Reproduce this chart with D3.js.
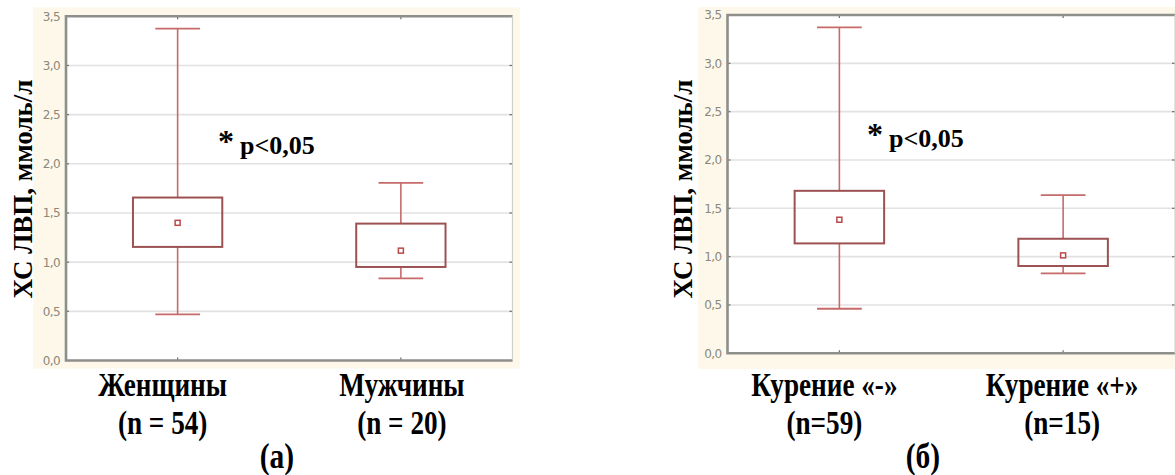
<!DOCTYPE html>
<html>
<head>
<meta charset="utf-8">
<script src="https://cdn.jsdelivr.net/npm/d3@7"></script>
<style>
  html, body { margin: 0; padding: 0; background: #ffffff; }
  svg { display: block; }
</style>
</head>
<body>
<svg id="chart" width="1175" height="475"></svg>
<script>
// HDL cholesterol (mmol/l) box plots: by sex (а) and by smoking status (б)
const yTickValues = [0, 0.5, 1.0, 1.5, 2.0, 2.5, 3.0, 3.5];
const yTitle = "ХС ЛВП, ммоль/л";
const noteText = "p<0,05";

const sexCategories = ["Женщины", "Мужчины"];
const sexCounts = ["(n = 54)", "(n = 20)"];
const sexWhiskerLow = [0.47, 0.835];
const sexQ1 = [1.155, 0.951];
const sexMean = [1.40, 1.117];
const sexQ3 = [1.657, 1.392];
const sexWhiskerHigh = [3.375, 1.806];

const smokeCategories = ["Курение «-»", "Курение «+»"];
const smokeCounts = ["(n=59)", "(n=15)"];
const smokeWhiskerLow = [0.461, 0.827];
const smokeQ1 = [1.137, 0.903];
const smokeMean = [1.382, 1.013];
const smokeQ3 = [1.681, 1.185];
const smokeWhiskerHigh = [3.371, 1.637];

const svg = d3.select("#chart");
const fmt = v => d3.format(".1f")(v).replace(".", ",");

const panels = [
  {
    letter: "(а)", cats: sexCategories, counts: sexCounts,
    lo: sexWhiskerLow, q1: sexQ1, mean: sexMean, q3: sexQ3, hi: sexWhiskerHigh,
    left: 66, right: 512.5, top: 16.3, bottom: 360.5,
    bg: [33, 7.5, 487, 361], titleX: 32, titleY: 189,
    note: [218, 154], labelShift: [-15, 1], letterX: 277
  },
  {
    letter: "(б)", cats: smokeCategories, counts: smokeCounts,
    lo: smokeWhiskerLow, q1: smokeQ1, mean: smokeMean, q3: smokeQ3, hi: smokeWhiskerHigh,
    left: 727.5, right: 1175, top: 15, bottom: 353.3,
    bg: [698, 7, 477, 362], titleX: 692, titleY: 189,
    note: [867, 147], labelShift: [-15, -1], letterX: 923
  }
];

panels.forEach(p => {
  const g = svg.append("g");

  // cream chart background and white plot area
  g.append("rect").attr("x", p.bg[0]).attr("y", p.bg[1])
    .attr("width", p.bg[2]).attr("height", p.bg[3]).attr("fill", "#fdf8ea");
  g.append("rect").attr("x", p.left).attr("y", p.top)
    .attr("width", p.right - p.left).attr("height", p.bottom - p.top).attr("fill", "#ffffff");

  const x = d3.scalePoint().domain(p.cats).range([p.left, p.right]).padding(0.5);
  const y = d3.scaleLinear().domain([0, 3.5]).range([p.bottom, p.top]);
  const step = x.step();
  const boxW = step * 0.4;
  const capW = step * 0.2;

  // horizontal grid
  g.append("g").selectAll("line").data(yTickValues.slice(1, -1)).join("line")
    .attr("x1", p.left).attr("x2", p.right)
    .attr("y1", d => y(d)).attr("y2", d => y(d))
    .attr("stroke", "#e2e2e2").attr("stroke-width", 1.6);

  // y axis labels
  const yAxis = d3.axisLeft(y).tickValues(yTickValues).tickFormat(fmt).tickSize(0).tickPadding(6);
  const ya = g.append("g").attr("transform", `translate(${p.left},0)`).call(yAxis);
  ya.select(".domain").remove();
  ya.selectAll("text").attr("fill", "#8a887c").attr("font-family", "DejaVu Sans")
    .attr("font-size", 12).attr("letter-spacing", -0.6);

  // frame tick marks
  const tk = g.append("g").attr("stroke", "#6e6e6e").attr("stroke-width", 1.2);
  yTickValues.forEach(v => {
    tk.append("line").attr("x1", p.left).attr("x2", p.left + 3).attr("y1", y(v)).attr("y2", y(v));
    tk.append("line").attr("x1", p.right - 3).attr("x2", p.right).attr("y1", y(v)).attr("y2", y(v));
  });
  p.cats.forEach(c => {
    tk.append("line").attr("x1", x(c)).attr("x2", x(c)).attr("y1", p.top).attr("y2", p.top + 3);
    tk.append("line").attr("x1", x(c)).attr("x2", x(c)).attr("y1", p.bottom - 3).attr("y2", p.bottom);
  });

  // plot frame
  g.append("path")
    .attr("d", `M${p.right},${p.top}H${p.left}V${p.bottom}H${p.right}`)
    .attr("fill", "none").attr("stroke", "#8e8e8a").attr("stroke-width", 2.6);
  g.append("line").attr("x1", p.right).attr("x2", p.right).attr("y1", p.top).attr("y2", p.bottom)
    .attr("stroke", "#d0d0cc").attr("stroke-width", 1.2);

  // boxes
  const idx = d3.range(p.cats.length);
  const bx = g.append("g");
  idx.forEach(i => {
    const cx = x(p.cats[i]);
    // whiskers
    bx.append("line").attr("x1", cx).attr("x2", cx).attr("y1", y(p.hi[i])).attr("y2", y(p.q3[i]))
      .attr("stroke", "#c66a6a").attr("stroke-width", 1.6);
    bx.append("line").attr("x1", cx).attr("x2", cx).attr("y1", y(p.q1[i])).attr("y2", y(p.lo[i]))
      .attr("stroke", "#c66a6a").attr("stroke-width", 1.6);
    [p.hi[i], p.lo[i]].forEach(v => {
      bx.append("line").attr("x1", cx - capW / 2).attr("x2", cx + capW / 2)
        .attr("y1", y(v)).attr("y2", y(v))
        .attr("stroke", "#c66a6a").attr("stroke-width", 1.8);
    });
    // interquartile box
    bx.append("rect").attr("x", cx - boxW / 2).attr("y", y(p.q3[i]))
      .attr("width", boxW).attr("height", y(p.q1[i]) - y(p.q3[i]))
      .attr("fill", "none").attr("stroke", "#9c5252").attr("stroke-width", 2);
    // mean marker
    bx.append("rect").attr("x", cx - 2.5).attr("y", y(p.mean[i]) - 2.5)
      .attr("width", 5).attr("height", 5)
      .attr("fill", "#ffffff").attr("stroke", "#b84a4a").attr("stroke-width", 1.5);
  });

  // y title
  g.append("text")
    .attr("transform", `translate(${p.titleX},${p.titleY}) rotate(-90)`)
    .attr("text-anchor", "middle")
    .attr("font-family", "Liberation Serif").attr("font-weight", "bold")
    .attr("font-size", 27).attr("fill", "#000")
    .text(yTitle);

  // significance note
  const note = g.append("text").attr("x", p.note[0]).attr("y", p.note[1])
    .attr("font-family", "Liberation Serif").attr("font-weight", "bold").attr("fill", "#000");
  note.append("tspan").attr("font-size", 32).attr("dy", -2).text("*");
  note.append("tspan").attr("font-size", 26).attr("dx", 6).attr("dy", 2).text(noteText);

  // category labels
  idx.forEach(i => {
    const cx = x(p.cats[i]) + p.labelShift[i];
    [[p.cats[i], 396], [p.counts[i], 434]].forEach(([t, by]) => {
      g.append("text")
        .attr("transform", `translate(${cx},${by}) scale(0.8,1)`)
        .attr("text-anchor", "middle")
        .attr("font-family", "Liberation Serif").attr("font-weight", "bold")
        .attr("font-size", 34).attr("fill", "#000").text(t);
    });
  });

  // panel letter
  g.append("text")
    .attr("transform", `translate(${p.letterX},468) scale(0.82,1)`)
    .attr("text-anchor", "middle")
    .attr("font-family", "Liberation Serif").attr("font-weight", "bold")
    .attr("font-size", 36).attr("fill", "#000").text(p.letter);
});
</script>
</body>
</html>
